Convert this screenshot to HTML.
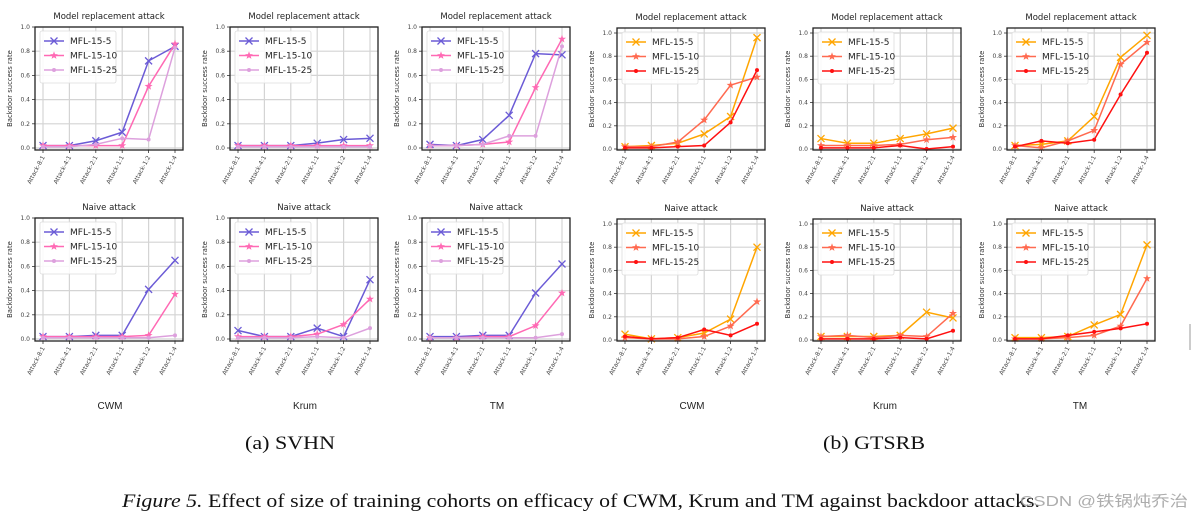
<!DOCTYPE html>
<html><head><meta charset="utf-8"><style>
html,body{margin:0;padding:0;background:#fff;}
svg{display:block;}
</style></head><body>
<svg id="fig" width="1204" height="522" viewBox="0 0 1204 522" xmlns="http://www.w3.org/2000/svg">
<g id="panels"></g>
<g font-family="Liberation Sans, DejaVu Sans, sans-serif" font-size="10" fill="#222" text-anchor="middle">
<text x="110" y="409">CWM</text>
<text x="305" y="409">Krum</text>
<text x="497" y="409">TM</text>
<text x="692" y="409">CWM</text>
<text x="885" y="409">Krum</text>
<text x="1080" y="409">TM</text>
</g>
<g font-family="Liberation Serif, serif" font-size="19" fill="#111">
<text x="245" y="449" textLength="90" lengthAdjust="spacingAndGlyphs">(a) SVHN</text>
<text x="823" y="449" textLength="102" lengthAdjust="spacingAndGlyphs">(b) GTSRB</text>
<text x="122" y="507" textLength="918" lengthAdjust="spacingAndGlyphs"><tspan font-style="italic">Figure 5.</tspan> Effect of size of training cohorts on efficacy of CWM, Krum and TM against backdoor attacks.</text>
</g>
<text x="1020" y="506" font-family="Liberation Sans, 'Noto Sans CJK SC', sans-serif" font-size="15" fill="#999" fill-opacity="0.8" textLength="168" lengthAdjust="spacingAndGlyphs">CSDN @铁锅炖乔治</text>
<line x1="1190" y1="324" x2="1190" y2="350" stroke="#999" stroke-width="1"/>
</svg>
<script>
const categories = ["Attack-8:1","Attack-4:1","Attack-2:1","Attack-1:1","Attack-1:2","Attack-1:4"];
const seriesNames = ["MFL-15-5","MFL-15-10","MFL-15-25"];
const yTicks = [0,0.2,0.4,0.6,0.8,1.0];
const yTickLabels = ["0.0","0.2","0.4","0.6","0.8","1.0"];
const panelTitles = ["Model replacement attack","Naive attack"];
// SVHN model replacement
const svhnMrCwm5 = [0.02,0.02,0.06,0.13,0.72,0.84];
const svhnMrCwm10 = [0.02,0.02,0.02,0.02,0.51,0.86];
const svhnMrCwm25 = [0.01,0.01,0.03,0.08,0.07,0.83];
const svhnMrKrum5 = [0.02,0.02,0.02,0.04,0.07,0.08];
const svhnMrKrum10 = [0.02,0.02,0.02,0.02,0.02,0.02];
const svhnMrKrum25 = [0.01,0.01,0.01,0.01,0.01,0.01];
const svhnMrTm5 = [0.03,0.02,0.07,0.27,0.78,0.77];
const svhnMrTm10 = [0.02,0.02,0.03,0.05,0.50,0.90];
const svhnMrTm25 = [0.02,0.02,0.03,0.10,0.10,0.84];
// GTSRB model replacement
const gtMrCwm5 = [0.02,0.03,0.05,0.13,0.28,0.96];
const gtMrCwm10 = [0.02,0.02,0.06,0.25,0.55,0.62];
const gtMrCwm25 = [0.01,0.01,0.02,0.03,0.23,0.68];
const gtMrKrum5 = [0.09,0.05,0.05,0.09,0.13,0.18];
const gtMrKrum10 = [0.03,0.03,0.03,0.04,0.08,0.10];
const gtMrKrum25 = [0.01,0.01,0.01,0.03,0.00,0.02];
const gtMrTm5 = [0.03,0.04,0.07,0.28,0.79,0.98];
const gtMrTm10 = [0.03,0.01,0.07,0.16,0.73,0.92];
const gtMrTm25 = [0.02,0.07,0.05,0.08,0.47,0.83];
// SVHN naive
const svhnNvCwm5 = [0.02,0.02,0.03,0.03,0.41,0.65];
const svhnNvCwm10 = [0.02,0.02,0.02,0.02,0.03,0.37];
const svhnNvCwm25 = [0.01,0.01,0.01,0.01,0.01,0.03];
const svhnNvKrum5 = [0.07,0.02,0.02,0.09,0.02,0.49];
const svhnNvKrum10 = [0.02,0.02,0.02,0.04,0.12,0.33];
const svhnNvKrum25 = [0.01,0.01,0.01,0.02,0.01,0.09];
const svhnNvTm5 = [0.02,0.02,0.03,0.03,0.38,0.62];
const svhnNvTm10 = [0.01,0.01,0.02,0.02,0.11,0.38];
const svhnNvTm25 = [0.01,0.01,0.01,0.01,0.01,0.04];
// GTSRB naive
const gtNvCwm5 = [0.05,0.01,0.02,0.06,0.18,0.80];
const gtNvCwm10 = [0.02,0.01,0.01,0.03,0.12,0.33];
const gtNvCwm25 = [0.03,0.01,0.02,0.09,0.04,0.14];
const gtNvKrum5 = [0.03,0.03,0.03,0.04,0.24,0.19];
const gtNvKrum10 = [0.03,0.04,0.02,0.04,0.03,0.23];
const gtNvKrum25 = [0.01,0.01,0.01,0.02,0.01,0.08];
const gtNvTm5 = [0.02,0.02,0.03,0.13,0.22,0.82];
const gtNvTm10 = [0.01,0.01,0.02,0.04,0.12,0.53];
const gtNvTm25 = [0.01,0.01,0.04,0.07,0.10,0.14];

const NS="http://www.w3.org/2000/svg";
const root=document.getElementById('panels');
function el(tag,attrs,parent){const e=document.createElementNS(NS,tag);for(const k in attrs)e.setAttribute(k,attrs[k]);(parent||root).appendChild(e);return e;}

const svhnColors=["#6b5bd6","#ff69b4","#dda0dd"];
const gtColors=["#ffa500","#ff6a50","#ff1010"];
const lefts=[35,230,422,617,813,1007];
const W=148;

const panels=[
 {col:0,row:0,ds:"svhn",name:"svhn-mr-cwm",data:[svhnMrCwm5,svhnMrCwm10,svhnMrCwm25]},
 {col:1,row:0,ds:"svhn",name:"svhn-mr-krum",data:[svhnMrKrum5,svhnMrKrum10,svhnMrKrum25]},
 {col:2,row:0,ds:"svhn",name:"svhn-mr-tm",data:[svhnMrTm5,svhnMrTm10,svhnMrTm25]},
 {col:3,row:0,ds:"gt",name:"gtsrb-mr-cwm",data:[gtMrCwm5,gtMrCwm10,gtMrCwm25]},
 {col:4,row:0,ds:"gt",name:"gtsrb-mr-krum",data:[gtMrKrum5,gtMrKrum10,gtMrKrum25]},
 {col:5,row:0,ds:"gt",name:"gtsrb-mr-tm",data:[gtMrTm5,gtMrTm10,gtMrTm25]},
 {col:0,row:1,ds:"svhn",name:"svhn-naive-cwm",data:[svhnNvCwm5,svhnNvCwm10,svhnNvCwm25]},
 {col:1,row:1,ds:"svhn",name:"svhn-naive-krum",data:[svhnNvKrum5,svhnNvKrum10,svhnNvKrum25]},
 {col:2,row:1,ds:"svhn",name:"svhn-naive-tm",data:[svhnNvTm5,svhnNvTm10,svhnNvTm25]},
 {col:3,row:1,ds:"gt",name:"gtsrb-naive-cwm",data:[gtNvCwm5,gtNvCwm10,gtNvCwm25]},
 {col:4,row:1,ds:"gt",name:"gtsrb-naive-krum",data:[gtNvKrum5,gtNvKrum10,gtNvKrum25]},
 {col:5,row:1,ds:"gt",name:"gtsrb-naive-tm",data:[gtNvTm5,gtNvTm10,gtNvTm25]}
];

function marker(g,type,x,y,c){
  let m;
  if(type===0){
    m=el('path',{d:`M${x-3.5},${y-3.5}L${x+3.5},${y+3.5}M${x-3.5},${y+3.5}L${x+3.5},${y-3.5}`,stroke:c,'stroke-width':1.3,fill:'none'},g);
  }else if(type===1){
    let p=[];for(let i=0;i<10;i++){const r=i%2?1.7:4.2;const a=-Math.PI/2+i*Math.PI/5;p.push((x+r*Math.cos(a)).toFixed(2)+','+(y+r*Math.sin(a)).toFixed(2));}
    m=el('polygon',{points:p.join(' '),fill:c},g);
  }else{
    m=el('circle',{cx:x,cy:y,r:2,fill:c},g);
  }
  
  
}

panels.forEach(p=>{
  const L=lefts[p.col];
  const off=p.row*191;
  const top=(p.ds==="svhn"?27:28)+off - (p.row===1&&p.ds==="svhn"?0:0);
  const bottom=150+off;
  const y0=(p.ds==="svhn"?148:149)+off;
  const unit=p.ds==="svhn"?121:116;
  const yS=v=>y0-v*unit;
  const xS=i=>L+8+i*(W-16)/(categories.length-1);
  const colors=p.ds==="svhn"?svhnColors:gtColors;
  const g=el('g',{});
  
  
  // grid
  categories.forEach((c,i)=>{
    const gl=el('line',{x1:xS(i),x2:xS(i),y1:top,y2:bottom,stroke:'#d4d4d4','stroke-width':1.2},g);
    
    
  });
  yTicks.forEach((v,i)=>{
    const gl=el('line',{x1:L,x2:L+W,y1:yS(v),y2:yS(v),stroke:'#d4d4d4','stroke-width':1.2},g);
    
    
    const tk=el('line',{x1:L-3,x2:L,y1:yS(v),y2:yS(v),stroke:'#333','stroke-width':0.8},g);
    
    
    const t=el('text',{x:L-5,y:yS(v)+2,'font-size':6,'font-family':'DejaVu Sans, sans-serif',fill:'#444','text-anchor':'end'},g);
    t.textContent=yTickLabels[i];
    
    
  });
  categories.forEach((c,i)=>{
    const tk=el('line',{x1:xS(i),x2:xS(i),y1:bottom,y2:bottom+3,stroke:'#333','stroke-width':0.8},g);
    
    
    const t=el('text',{x:xS(i)+2,y:bottom+7,'font-size':6,'font-family':'DejaVu Sans, sans-serif',fill:'#444','text-anchor':'end',transform:`rotate(-62 ${xS(i)+2} ${bottom+7})`},g);
    t.textContent=c;
    
    
  });
  // series
  p.data.forEach((arr,s)=>{
    const pts=arr.map((v,i)=>xS(i).toFixed(2)+','+yS(v).toFixed(2)).join(' ');
    const pl=el('polyline',{points:pts,fill:'none',stroke:colors[s],'stroke-width':1.5},g);
    
    
    arr.forEach((v,i)=>marker(g,s,xS(i),yS(v),colors[s]));
  });
  // frame
  const fr=el('rect',{x:L,y:top,width:W,height:bottom-top,fill:'none',stroke:'#222','stroke-width':1.3},g);
  
  
  // title
  const tt=el('text',{x:L+W/2,y:top-8,'font-size':8.5,'font-family':'DejaVu Sans, sans-serif',fill:'#222','text-anchor':'middle'},g);
  tt.textContent=panelTitles[p.row];
  
  
  // ylabel
  const yl=el('text',{x:0,y:0,'font-size':6.8,'font-family':'DejaVu Sans, sans-serif',fill:'#333','text-anchor':'middle',transform:`translate(${L-23},${(top+bottom)/2}) rotate(-90)`},g);
  yl.textContent="Backdoor success rate";
  
  
  // legend
  const lg=el('g',{},g);
  
  
  el('rect',{x:L+5,y:top+4,width:76,height:52,fill:'#fff','fill-opacity':0.85,stroke:'#ddd','stroke-width':0.8,rx:2},lg);
  seriesNames.forEach((n,s)=>{
    const ly=top+14+s*14.5;
    const e=el('g',{},lg);
    
    
    el('line',{x1:L+9,x2:L+29,y1:ly,y2:ly,stroke:colors[s],'stroke-width':1.6},e);
    marker(e,s,L+19,ly,colors[s]);
    const t=el('text',{x:L+35,y:ly+3,'font-size':9,'font-family':'DejaVu Sans, sans-serif',fill:'#222'},e);
    t.textContent=n;
  });
});
</script>
</body></html>
